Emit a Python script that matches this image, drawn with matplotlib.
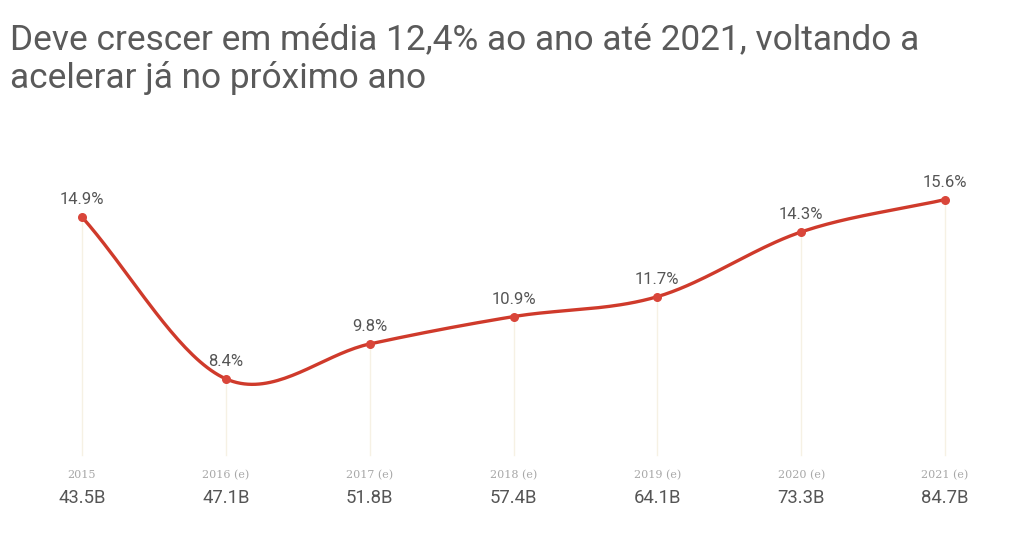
import numpy as np
import matplotlib
matplotlib.use("Agg")
import matplotlib.pyplot as plt

years = ["2015", "2016 (e)", "2017 (e)", "2018 (e)", "2019 (e)", "2020 (e)", "2021 (e)"]
growth = [14.9, 8.4, 9.8, 10.9, 11.7, 14.3, 15.6]
revenue = ["43.5B", "47.1B", "51.8B", "57.4B", "64.1B", "73.3B", "84.7B"]

plt.rcParams['font.family'] = ['Roboto', 'DejaVu Sans']

fig = plt.figure(figsize=(10.24, 5.41), dpi=100)
fig.patch.set_facecolor('white')
ax = fig.add_axes([82/1024, 86/541, (945-82)/1024, 295/541])
ax.set_xlim(0, len(years) - 1)
ax.set_ylim(5.34, 17.19)
ax.axis('off')

x = np.arange(len(years), dtype=float)
y = np.array(growth, dtype=float)

# Catmull-Rom smoothing of the path through the data points
def catmull_rom(xs, ys, n=40):
    px = np.concatenate([[2*xs[0]-xs[1]], xs, [2*xs[-1]-xs[-2]]])
    py = np.concatenate([[2*ys[0]-ys[1]], ys, [2*ys[-1]-ys[-2]]])
    outx, outy = [], []
    t = np.linspace(0, 1, n)
    for i in range(1, len(px)-2):
        p0, p1, p2, p3 = [np.array([px[j], py[j]]) for j in range(i-1, i+3)]
        m1 = (p2 - p0) / 2
        m2 = (p3 - p1) / 2
        h00 = 2*t**3 - 3*t**2 + 1
        h10 = t**3 - 2*t**2 + t
        h01 = -2*t**3 + 3*t**2
        h11 = t**3 - t**2
        pts = np.outer(h00, p1) + np.outer(h10, m1) + np.outer(h01, p2) + np.outer(h11, m2)
        outx.extend(pts[:, 0]); outy.extend(pts[:, 1])
    return np.array(outx), np.array(outy)

sx, sy = catmull_rom(x, y)

for xi, yi in zip(x, y):
    ax.plot([xi, xi], [5.34, yi], color='#f6f1e4', lw=1.0, zorder=1, clip_on=False)

ax.plot(sx, sy, color='#cf3a2b', lw=2.4, zorder=3, clip_on=False, solid_capstyle='round')
ax.scatter(x, y, s=30, color='#d9463a', zorder=4, clip_on=False)

for xi, yi in zip(x, y):
    ax.annotate(f"{yi:.1f}%", (xi, yi), xytext=(0, 7), textcoords='offset points',
                ha='center', va='bottom', fontsize=12, color='#555555')

for xi, yr, rv in zip(x, years, revenue):
    ax.annotate(yr, (xi, 0), xycoords=('data', 'axes fraction'), xytext=(0, -14.4),
                textcoords='offset points', ha='center', va='center',
                fontsize=8, color='#a8a8a8', family=['DejaVu Serif'])
    ax.annotate(rv, (xi, 0), xycoords=('data', 'axes fraction'), xytext=(0, -31),
                textcoords='offset points', ha='center', va='center',
                fontsize=13.3, color='#555555')

fig.text(10/1024, 1 - 40/541, "Deve crescer em média 12,4% ao ano até 2021, voltando a",
         fontsize=25.4, color='#5a5a5a', va='center', ha='left')
fig.text(10/1024, 1 - 78/541, "acelerar já no próximo ano",
         fontsize=25.4, color='#5a5a5a', va='center', ha='left')

fig.savefig("out.png", dpi=100, facecolor='white')
